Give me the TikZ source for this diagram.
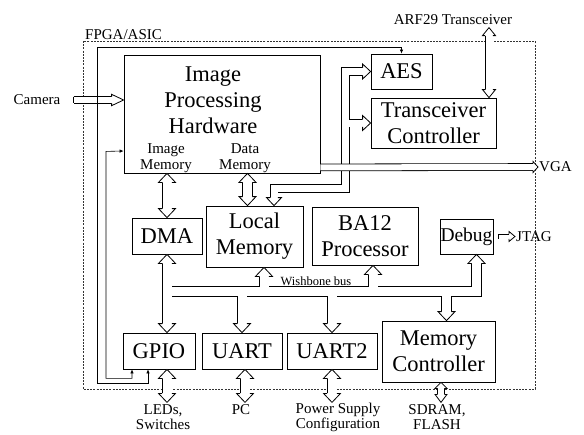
\documentclass[tikz,border=0pt]{standalone}
\usepackage{fontspec}
\setmainfont{Liberation Serif}
\usetikzlibrary{calc,arrows.meta}

\tikzset{
  blk/.style={draw, line width=0.8pt, inner sep=0pt, align=center, font=\fontsize{22.5}{26}\selectfont},
  lbl/.style={inner sep=0pt, align=center, font=\fontsize{15}{16.5}\selectfont},
  pipe/.style={double=white, double distance=#1, line width=0.8pt},
  pipe/.default=9pt,
  head/.style={fill=white, line width=0.8pt, line join=miter},
  pics/hd/.style args={#1/#2/#3}{code={
    \filldraw[head] (-#1,#3) -- (-#1,#2) -- (0,0) -- (-#1,-#2) -- (-#1,-#3);}},
  ctl/.style={line width=0.6pt, {Latex[length=4pt,width=3.5pt]}-{Latex[length=4pt,width=3.5pt]}},
  fpga/.style={draw=black!80, line width=0.6pt, dash pattern=on 2pt off 1.2pt},
}

\begin{document}
\begin{tikzpicture}[x=1pt, y=-1pt]
    \useasboundingbox (0,0) rectangle (584,434);

    % Rahmen des Chips
    \draw[fpga] (83,41) rectangle (535,389);
    \node[lbl, anchor=west] (fpl) at (85,34.5) {FPGA/ASIC};

    % Bloecke
    \node[blk, minimum width=196pt, minimum height=118pt] (iph) at (222,114) {};
    \node[lbl, font=\fontsize{22.5}{26}\selectfont] (iptxt) at (213,100.5) {Image\\Processing\\Hardware};
    \node[lbl] (imtxt) at (166,158) {Image\\Memory};
    \node[lbl] (dmtxt) at (245,158) {Data\\Memory};
    \node[blk, minimum width=70pt, minimum height=36pt] (dma) at (167,236) {DMA};
    \node[blk, minimum width=97pt, minimum height=61pt] (lm) at (254.5,236.5) {Local\\Memory};
    \node[blk, minimum width=106pt, minimum height=58pt] (ba) at (365,236) {BA12\\Processor};
    \node[blk, minimum width=53pt, minimum height=35pt, font=\fontsize{19.5}{22}\selectfont] (dbg) at (466.5,236.5) {Debug};
    \node[blk, minimum width=61pt, minimum height=35pt] (aes) at (401.5,71.5) {AES};
    \node[blk, minimum width=125pt, minimum height=50pt] (tc) at (433.5,123) {Transceiver\\Controller};
    \node[blk, minimum width=72pt, minimum height=36pt] (gpio) at (159,351) {GPIO};
    \node[blk, minimum width=80pt, minimum height=36pt] (uart) at (242,351) {UART};
    \node[blk, minimum width=90pt, minimum height=36pt] (uart2) at (332,351) {UART2};
    \node[blk, minimum width=113pt, minimum height=61pt] (mc) at (438.5,351.5) {Memory\\Controller};

    % Beschriftungen aussen
    \node[lbl] (cam) at (37,100) {Camera};
    \node[lbl] (arf) at (453,19.5) {ARF29 Transceiver};
    \node[lbl, anchor=west] (vga) at (539,167) {VGA};
    \node[lbl, anchor=west] (jtag) at (516,236.5) {JTAG};
    \node[lbl, font=\fontsize{12.5}{14}\selectfont] (wbl) at (316,281) {Wishbone bus};
    \node[lbl, font=\fontsize{15}{15}\selectfont] (led) at (163,417) {LEDs,\\Switches};
    \node[lbl] (pc) at (241,410) {PC};
    \node[lbl, font=\fontsize{15}{15}\selectfont] (psc) at (338,417) {Power Supply\\Configuration};
    \node[lbl, font=\fontsize{15}{15}\selectfont] (sdr) at (437,417) {SDRAM,\\FLASH};

    % Wishbone-Bus
    \coordinate (wb) at (167,291.5);
    \coordinate (tlm) at ($(lm.south)+(9.5,9)$);
    \coordinate (tba) at ($(ba.south)+(8,9)$);
    \coordinate (tdbg) at ($(dbg.south)+(10,9)$);
    \coordinate (tuart) at ($(uart.north)+(0,-9)$);
    \coordinate (tuart2) at ($(uart2.north)+(0,-9)$);
    \coordinate (tmc) at ($(mc.north)+(8,-9)$);
    \draw[pipe] ($(dma.south)+(0,9)$) -- ($(dma.south |- gpio.north)+(0,-9)$)
        (wb) -| (tdbg)
        (tlm) -- (tlm |- wb) (tba) -- (tba |- wb)
        (tuart) -- (tuart |- wb) (tuart2) -- (tuart2 |- wb)
        (tmc) -- (tmc |- wb);
    \pic[rotate=90] at (dma.south) {hd=9/8.5/4.9};
    \pic[rotate=-90] at (dma.south |- gpio.north) {hd=9/8.5/4.9};
    \pic[rotate=90] at ($(lm.south)+(9.5,0)$) {hd=9/8.5/4.9};
    \pic[rotate=90] at ($(ba.south)+(8,0)$) {hd=9/8.5/4.9};
    \pic[rotate=90] at ($(dbg.south)+(10,0)$) {hd=9/8.5/4.9};
    \pic[rotate=-90] at (uart.north) {hd=9/8.5/4.9};
    \pic[rotate=-90] at (uart2.north) {hd=9/8.5/4.9};
    \pic[rotate=-90] at ($(mc.north)+(8,0)$) {hd=9/8.5/4.9};

    % Speicherpfade der Bildverarbeitung
    \draw[pipe] ($(dma.north)+(0,-9)$) -- ($(dma.north |- iph.south)+(0,9)$);
    \pic[rotate=-90] at (dma.north) {hd=9/8.5/4.9};
    \pic[rotate=90] at (dma.north |- iph.south) {hd=9/8.5/4.9};
    \draw[pipe] ($(lm.north)+(-7,-9)$) -- ($(lm.north |- iph.south)+(-7,9)$);
    \pic[rotate=-90] at ($(lm.north)+(-7,0)$) {hd=9/8.5/4.9};
    \pic[rotate=90] at ($(lm.north |- iph.south)+(-7,0)$) {hd=9/8.5/4.9};

    % Local Memory zu AES und Transceiver
    \coordinate (rt) at (345.5,188.5);
    \draw[pipe=7pt] ($(lm.north)+(19.5,-8)$) |- (rt) |- ($(aes.west)+(-8,0)$)
        (rt |- tc.west) -- ($(tc.west)+(-8,0)$);
    \pic[rotate=-90] at ($(lm.north)+(19.5,0)$) {hd=8/7.5/3.9};
    \pic at (aes.west) {hd=8/7.5/3.9};
    \pic at (tc.west) {hd=8/7.5/3.9};

    % Funk
    \draw[pipe=7pt] ($(tc.north)+(55.5,-8)$) -- ($(tc.north)+(55.5,-62)$);
    \pic[rotate=-90] at ($(tc.north)+(55.5,0)$) {hd=8/6.5/3.9};
    \pic[rotate=90] at ($(tc.north)+(55.5,-70)$) {hd=8/6.5/3.9};

    % Kamera, VGA, JTAG
    \draw[pipe=6pt] ($(cam.east)+(13,0)$) -- ($(iph.west |- cam)+(-12,0)$);
    \draw[line width=0.8pt] ($(cam.east)+(13,-3.4)$) -- ($(cam.east)+(13,3.4)$);
    \pic at (iph.west |- cam) {hd=12/5.7/3.4};
    \draw[pipe=6pt] ($(iph.south east)+(0,-6)$) -- ($(vga.west)+(-6,0)$);
    \pic at ($(vga.west)+(-1,0)$) {hd=5/5.5/3.4};
    \draw[pipe=4pt] ($(dbg.east)+(5,0)$) -- ($(jtag.west)+(-7,0)$);
    \draw[line width=0.8pt] ($(dbg.east)+(5,-2.4)$) -- ($(dbg.east)+(5,2.4)$);
    \pic at ($(jtag.west)+(-1,0)$) {hd=6/5/2.4};

    % Anschluesse unten
    \draw[pipe] ($(gpio.south)+(8,9)$) -- ($(gpio.south)+(8,24)$);
    \pic[rotate=90] at ($(gpio.south)+(8,0)$) {hd=9/8.5/4.9};
    \pic[rotate=-90] at ($(gpio.south)+(8,33)$) {hd=9/8.5/4.9};
    \draw[pipe] ($(uart.south)+(3,9)$) -- ($(uart.south)+(3,24)$);
    \pic[rotate=90] at ($(uart.south)+(3,0)$) {hd=9/8.5/4.9};
    \pic[rotate=-90] at ($(uart.south)+(3,33)$) {hd=9/8.5/4.9};
    \draw[pipe] ($(uart2.south)+(0,9)$) -- ($(uart2.south)+(0,24)$);
    \pic[rotate=90] at (uart2.south) {hd=9/8.5/4.9};
    \pic[rotate=-90] at ($(uart2.south)+(0,33)$) {hd=9/8.5/4.9};
    \draw[pipe=6pt] ($(mc.south)+(2.5,6)$) -- ($(mc.south)+(2.5,12)$);
    \pic[rotate=90] at ($(mc.south)+(2.5,0)$) {hd=6/6/3.4};
    \pic[rotate=-90] at ($(mc.south)+(2.5,20)$) {hd=8/6/3.4};

    % Steuerleitungen vom GPIO
    \draw[ctl] ([xshift=-11pt]gpio.south) -- ++(0,14) -| (97,47) -| (aes.north);
    \draw[ctl] ([xshift=-27pt]gpio.south) -- ++(0,9) -| ++(-26,-227) -- ([yshift=-37pt]iph.west);
\end{tikzpicture}
\end{document}
